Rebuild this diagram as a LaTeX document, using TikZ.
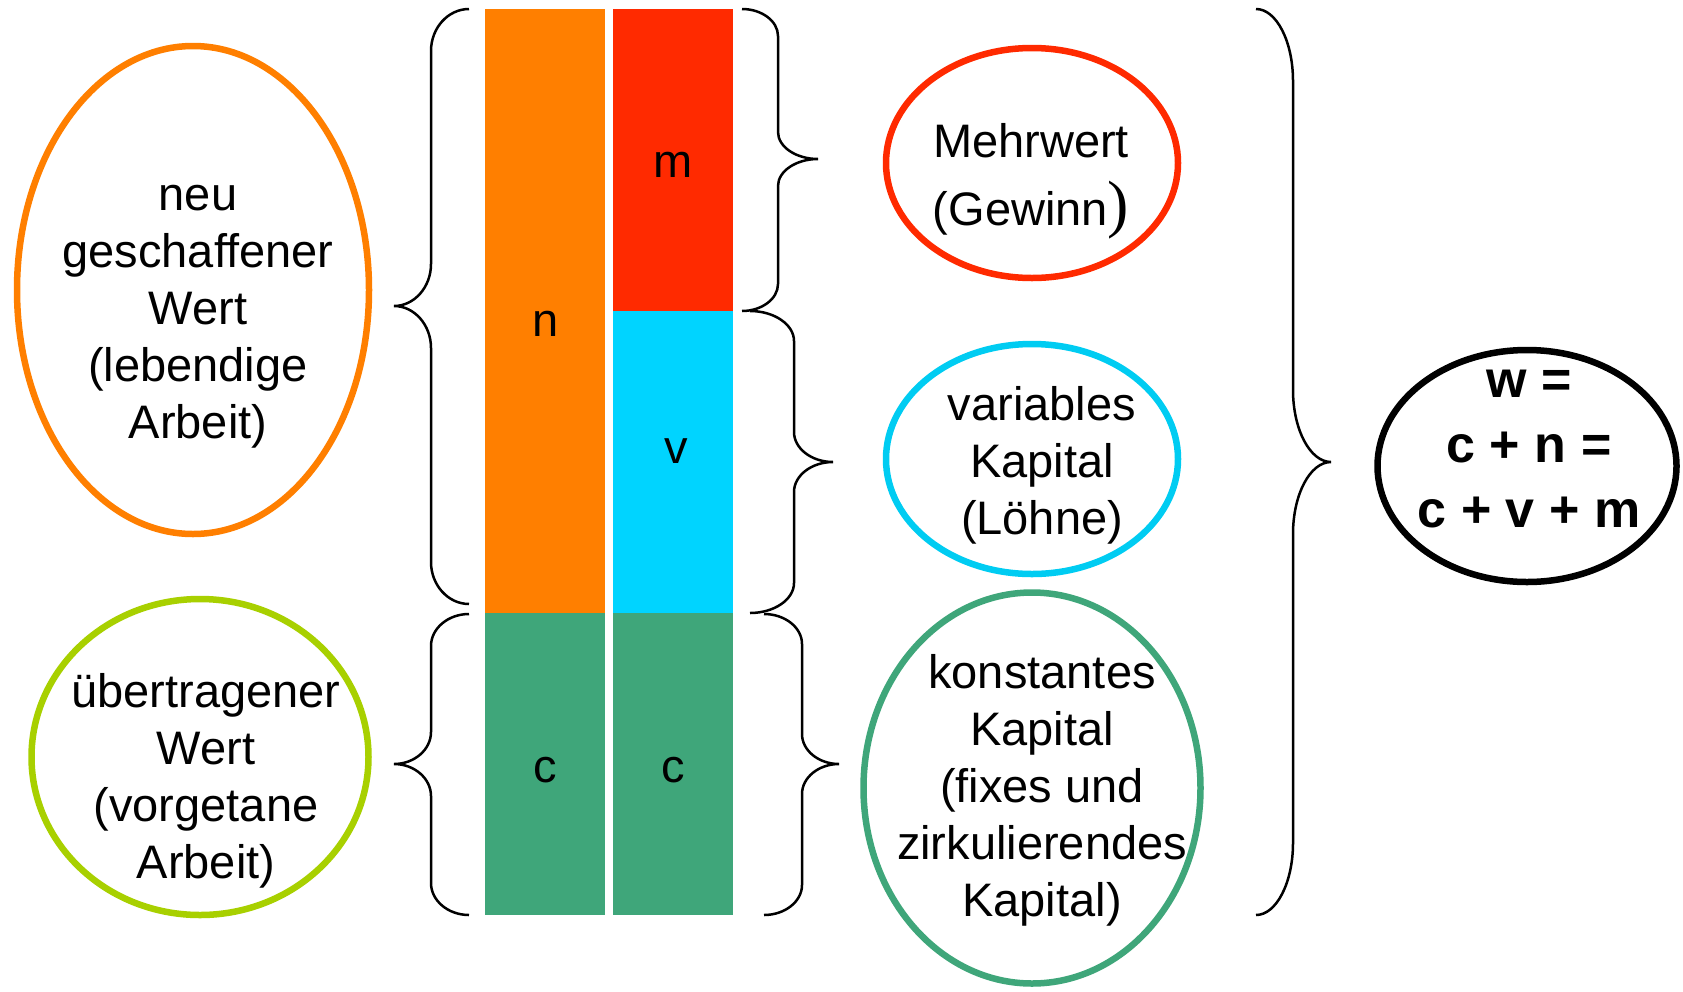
\documentclass[tikz,border=0pt]{standalone}
\usepackage{fontspec}
\usepackage{tikz}
\usetikzlibrary{shapes.geometric}
\setmainfont{Liberation Sans}
\newfontfamily\parenfont{Liberation Serif}

\definecolor{colN}{HTML}{FF7F00}
\definecolor{colM}{HTML}{FF2A00}
\definecolor{colV}{HTML}{00D4FF}
\definecolor{colC}{HTML}{3FA67A}
\definecolor{colU}{HTML}{A8D000}
\definecolor{colVring}{HTML}{00CCF2}

\tikzset{
  bar/.style={rectangle,inner sep=0pt,minimum width=120pt,minimum height=302pt},
  barlabel/.style={inner sep=0pt,font=\fontsize{47}{57}\selectfont},
  ring/.style={ellipse,draw,line width=6.5pt,inner sep=0pt},
  ringtext/.style={align=center,inner sep=0pt,font=\fontsize{47}{57}\selectfont},
  brace line/.style={line width=2.5pt,black}
}

% #1 end x, #2 spine x, #3 tip x, #4 top y, #5 tip y, #6 bottom y, #7 bend
\newcommand{\curly}[7]{%
  \draw[brace line] (#1,#4) .. controls ({#2+0.45*(#1-#2)},#4) and (#2,{#4+0.45*#7}) .. (#2,{#4+#7})
    -- (#2,{#5-#7}) .. controls (#2,{#5-0.45*#7}) and ({#3+0.55*(#2-#3)},#5) .. (#3,#5)
    .. controls ({#3+0.55*(#2-#3)},#5) and (#2,{#5+0.45*#7}) .. (#2,{#5+#7})
    -- (#2,{#6-#7}) .. controls (#2,{#6-0.45*#7}) and ({#2+0.45*(#1-#2)},#6) .. (#1,#6);
}

\begin{document}
\begin{tikzpicture}[x=1pt,y=-1pt]
			\useasboundingbox (0,0) rectangle (1683,991);

			% columns
			\node[bar,fill=colN,minimum height=604pt] (n) at (545,311) {};
			\node[bar,fill=colM] (m) at (673,160) {};
			\node[bar,fill=colV] (v) at (673,462) {};
			\node[bar,fill=colC] (c1) at (545,764) {};
			\node[bar,fill=colC] (c2) at (673,764) {};

			\node[barlabel] (n label) at (546,324) {n};
			\node[barlabel] (m label) at (673,165) {m};
			\node[barlabel] (v label) at (676,451) {v};
			\node[barlabel] (c1 label) at (545,770) {c};
			\node[barlabel] (c2 label) at (673,770) {c};

			% braces
			\curly{469}{431}{394}{9}{306}{604}{42}
			\curly{469}{431}{394}{614}{764}{915}{32}
			\curly{742}{778}{818}{9}{159}{311}{27}
			\curly{750}{794}{833}{311}{462}{613}{30}
			\curly{764}{802}{839}{614}{764}{915}{30}
			\curly{1256}{1293}{1331}{9}{462}{915}{72}

			% ellipses
			\node[ring,draw=colN,minimum width=352pt,minimum height=488pt] (neu) at (193,290) {};
			\node[ring,draw=colU,minimum width=337pt,minimum height=316pt] (ueb) at (200,757) {};
			\node[ring,draw=colM,minimum width=292pt,minimum height=230pt] (mehr) at (1032,163) {};
			\node[ring,draw=colVring,minimum width=292pt,minimum height=230pt] (var) at (1032,459) {};
			\node[ring,draw=colC,minimum width=337pt,minimum height=391pt] (konst) at (1032,788) {};
			\node[ring,draw=black,minimum width=299pt,minimum height=232pt] (w) at (1527,466) {};

			% texts
			\node[ringtext] (neu text) at (198,317) {neu\\geschaffener\\Wert\\(lebendige\\Arbeit)};
			\node[ringtext] (ueb text) at (206,781) {übertragener\\Wert\\(vorgetane\\Arbeit)};
			\node[ringtext,font=\fontsize{47}{68}\selectfont] (mehr text) at (1031,181)
				{Mehrwert\\(Gewinn{\parenfont\fontsize{64}{68}\selectfont )}};
			\node[ringtext] (var text) at (1042,465) {variables\\Kapital\\(Löhne)};
			\node[ringtext] (konst text) at (1042,790) {konstantes\\Kapital\\(fixes und\\zirkulierendes\\Kapital)};
			\node[ringtext,font=\fontsize{52}{65}\selectfont\bfseries] (w text) at (1529,449) {w =\\c + n =\\c + v + m};
		\end{tikzpicture}
\end{document}
